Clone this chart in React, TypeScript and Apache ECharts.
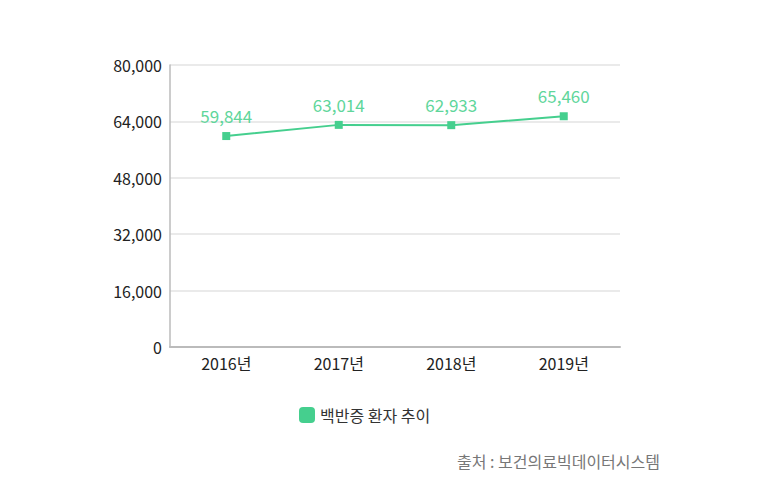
import { useEffect, useRef } from "react";
import * as echarts from "echarts";

const years = ["2016년", "2017년", "2018년", "2019년"];
const patients = [59844, 63014, 62933, 65460];
const seriesName = "백반증 환자 추이";
const sourceText = "출처 : 보건의료빅데이터시스템";

const GREEN = "#45cf8e";
const FONT = "'Noto Sans CJK KR', 'Noto Sans', sans-serif";

export default function App() {
  const chartRef = useRef<HTMLDivElement>(null);

  useEffect(() => {
    document.body.style.margin = "0";
    if (!chartRef.current) return;
    const chart = echarts.init(chartRef.current, undefined, { renderer: "svg" });

    chart.setOption({
      animation: false,
      textStyle: { fontFamily: FONT },
      grid: { left: 170, right: 140, top: 65, bottom: 157 },
      legend: {
        data: [{ name: seriesName, icon: "roundRect" }],
        left: 294,
        top: 402,
        itemWidth: 16,
        itemHeight: 16,
        itemGap: 6,
        textStyle: { fontSize: 16, color: "#333", fontFamily: FONT },
      },
      xAxis: {
        type: "category",
        data: years,
        axisTick: { show: false },
        axisLine: { lineStyle: { color: "#bbb", width: 2 } },
        axisLabel: { fontSize: 16, color: "#222", margin: 8, fontFamily: FONT },
      },
      yAxis: {
        type: "value",
        min: 0,
        max: 80000,
        interval: 16000,
        axisLine: { show: true, lineStyle: { color: "#bbb", width: 1.5 } },
        axisTick: { show: false },
        axisLabel: {
          fontSize: 16,
          color: "#222",
          margin: 8,
          fontFamily: FONT,
          formatter: (v: number) => v.toLocaleString("en-US"),
        },
        splitLine: { lineStyle: { color: "#e3e3e3", width: 1.5 } },
      },
      series: [
        {
          name: seriesName,
          type: "line",
          data: patients,
          symbol: "rect",
          symbolSize: 8,
          color: GREEN,
          lineStyle: { color: GREEN, width: 2 },
          itemStyle: { color: GREEN },
          label: {
            show: true,
            position: "top",
            distance: 8,
            fontSize: 17,
            color: "#5fd69b",
            fontFamily: FONT,
            formatter: (p: any) => Number(p.value).toLocaleString("en-US"),
          },
        },
      ],
      graphic: [
        {
          type: "text",
          right: 100,
          top: 453,
          style: {
            text: sourceText,
            fontSize: 16,
            fill: "#777",
            fontFamily: FONT,
          },
        },
      ],
    });

    return () => chart.dispose();
  }, []);

  return <div ref={chartRef} style={{ width: 760, height: 504 }} />;
}
